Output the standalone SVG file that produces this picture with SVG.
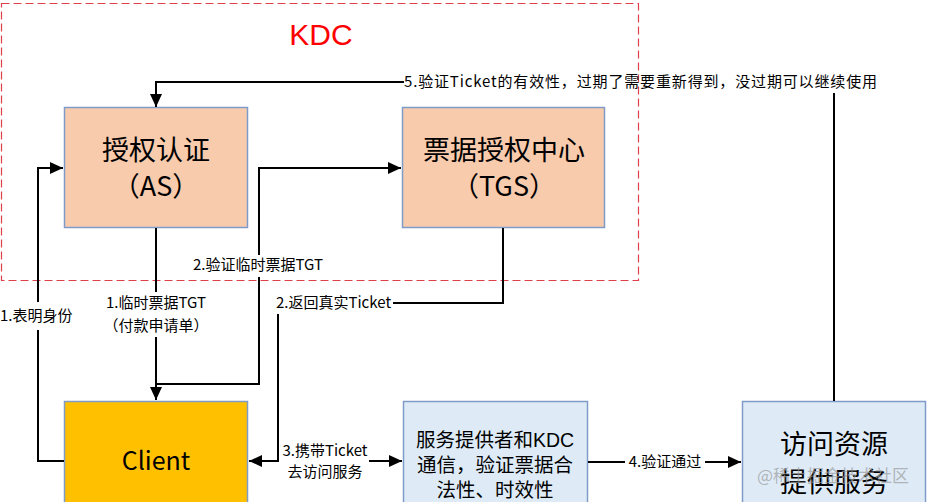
<svg xmlns="http://www.w3.org/2000/svg" width="928" height="502" viewBox="0 0 928 502">
<defs>
<marker id="arr" markerUnits="userSpaceOnUse" markerWidth="14" markerHeight="12" refX="13" refY="6" orient="auto">
<path d="M0,0 L13,6 L0,12 Z" fill="#000"/>
</marker>
<style>
.box{stroke:#7F9CC9;stroke-width:1.5}
.as{fill:#F8CBAD}
.cl{fill:#FFC000}
.sv{fill:#DEEBF7}
.t{font-family:"Noto Sans CJK SC","Liberation Sans",sans-serif;fill:#000;text-anchor:middle}
.big{font-size:27px}
.mid{font-family:"Liberation Sans","Noto Sans CJK SC",sans-serif;font-size:19.5px}
.lbl{font-family:"Noto Sans CJK SC","Liberation Sans",sans-serif;font-size:15px;fill:#000}
.ln{fill:none;stroke:#000;stroke-width:2}
</style>
</defs>
<rect x="1.5" y="3.5" width="637" height="277" fill="none" stroke="#E0404A" stroke-width="1.2" stroke-dasharray="8,4"/>
<text x="321" y="45" font-family="Liberation Sans, sans-serif" font-size="30" fill="#FF0000" text-anchor="middle">KDC</text>

<g id="as">
<rect class="box as" x="64.5" y="107.5" width="183" height="120"/>
<text class="t big" x="156" y="160">授权认证</text>
<text class="t big" x="156" y="196">（AS）</text>
</g>
<g id="tgs">
<rect class="box as" x="402.5" y="107.5" width="202" height="120"/>
<text class="t big" x="504" y="160">票据授权中心</text>
<text class="t big" x="504" y="196">（TGS）</text>
</g>
<g id="client">
<rect class="box cl" x="64.5" y="401.5" width="183" height="120"/>
<text class="t" x="156" y="470" font-size="25">Client</text>
</g>
<g id="service">
<rect class="box sv" x="403.5" y="401.5" width="184" height="120"/>
<text class="t mid" x="495" y="447">服务提供者和KDC</text>
<text class="t mid" x="495" y="472">通信，验证票据合</text>
<text class="t mid" x="495" y="497">法性、时效性</text>
</g>
<g id="resource">
<rect class="box sv" x="742.5" y="401.5" width="183" height="120"/>
<text class="t big" x="834" y="454">访问资源</text>
<text class="t big" x="834" y="492">提供服务</text>
</g>

<g id="connectors">
<path class="ln" d="M64,461 H38 V330"/>
<path class="ln" d="M38,302 V168 H63" marker-end="url(#arr)"/>
<text class="lbl" x="0" y="321">1.表明身份</text>

<path class="ln" d="M156,228 V292"/>
<path class="ln" d="M156,337 V400" marker-end="url(#arr)"/>
<text class="lbl" x="156" y="308" text-anchor="middle">1.临时票据TGT</text>
<text class="lbl" x="156" y="331" text-anchor="middle">（付款申请单）</text>

<path class="ln" d="M156,384 H259 V277"/>
<path class="ln" d="M259,255 V168 H401" marker-end="url(#arr)"/>
<text class="lbl" x="193" y="270">2.验证临时票据TGT</text>

<path class="ln" d="M503,228 V303 H393"/>
<text class="lbl" x="276" y="308">2.返回真实Ticket</text>
<path class="ln" d="M278,314 V461 H249" marker-end="url(#arr)"/>

<path class="ln" d="M369,461 H402" marker-end="url(#arr)"/>
<text class="lbl" x="325" y="456" text-anchor="middle">3.携带Ticket</text>
<text class="lbl" x="325" y="477" text-anchor="middle">去访问服务</text>

<path class="ln" d="M588,462 H625"/>
<path class="ln" d="M705,462 H741" marker-end="url(#arr)"/>
<text class="lbl" x="665" y="467" text-anchor="middle">4.验证通过</text>

<path class="ln" d="M834,401 V93"/>
<path class="ln" d="M404,82 H156 V107" marker-end="url(#arr)"/>
<text class="lbl" x="404" y="87" font-size="15.5" textLength="473" lengthAdjust="spacing">5.验证Ticket的有效性，过期了需要重新得到，没过期可以继续使用</text>
</g>
<text x="833" y="482" font-family="Noto Sans CJK SC, sans-serif" font-size="17" fill="#9a9a9a" fill-opacity="0.7" text-anchor="middle">@稀土掘金技术社区</text>
</svg>
